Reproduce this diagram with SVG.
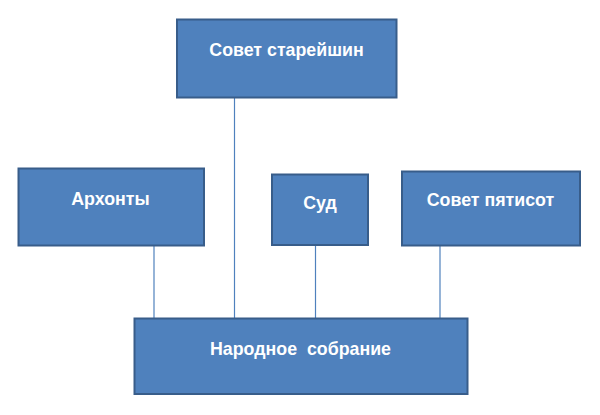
<svg xmlns="http://www.w3.org/2000/svg" width="600" height="415" viewBox="0 0 600 415">
<style>
.box{fill:#4F81BD;stroke:#385D8A;stroke-width:2}
.lbl{fill:#FFFFFF;font-family:"Liberation Sans",Arial,sans-serif;font-weight:bold;font-size:17.8px;text-anchor:middle}
.conn{stroke:#4F81BD;stroke-width:1.2;fill:none}
</style>
<rect width="600" height="415" fill="#FFFFFF"/>
<g id="connectors">
<line class="conn" x1="234.5" y1="98" x2="234.5" y2="318"/>
<line class="conn" x1="154" y1="246" x2="154" y2="318"/>
<line class="conn" x1="315.5" y1="246" x2="315.5" y2="318"/>
<line class="conn" x1="440" y1="246" x2="440" y2="318"/>
</g>
<g id="node-sovet-stareishin">
<rect class="box" x="177" y="19.5" width="219.5" height="78"/>
<text class="lbl" x="286.5" y="56">Совет старейшин</text>
</g>
<g id="node-arhonty">
<rect class="box" x="18.5" y="168.5" width="185.5" height="77"/>
<text class="lbl" x="110.5" y="204.5">Архонты</text>
</g>
<g id="node-sud">
<rect class="box" x="272" y="174.5" width="96" height="70.5"/>
<text class="lbl" x="320" y="209">Суд</text>
</g>
<g id="node-sovet-pyatisot">
<rect class="box" x="402" y="171.5" width="178" height="74"/>
<text class="lbl" x="490.5" y="206">Совет пятисот</text>
</g>
<g id="node-narodnoe-sobranie">
<rect class="box" x="134.5" y="318.5" width="333" height="75.5"/>
<text class="lbl" x="300.5" y="354.5" xml:space="preserve">Народное  собрание</text>
</g>
</svg>
